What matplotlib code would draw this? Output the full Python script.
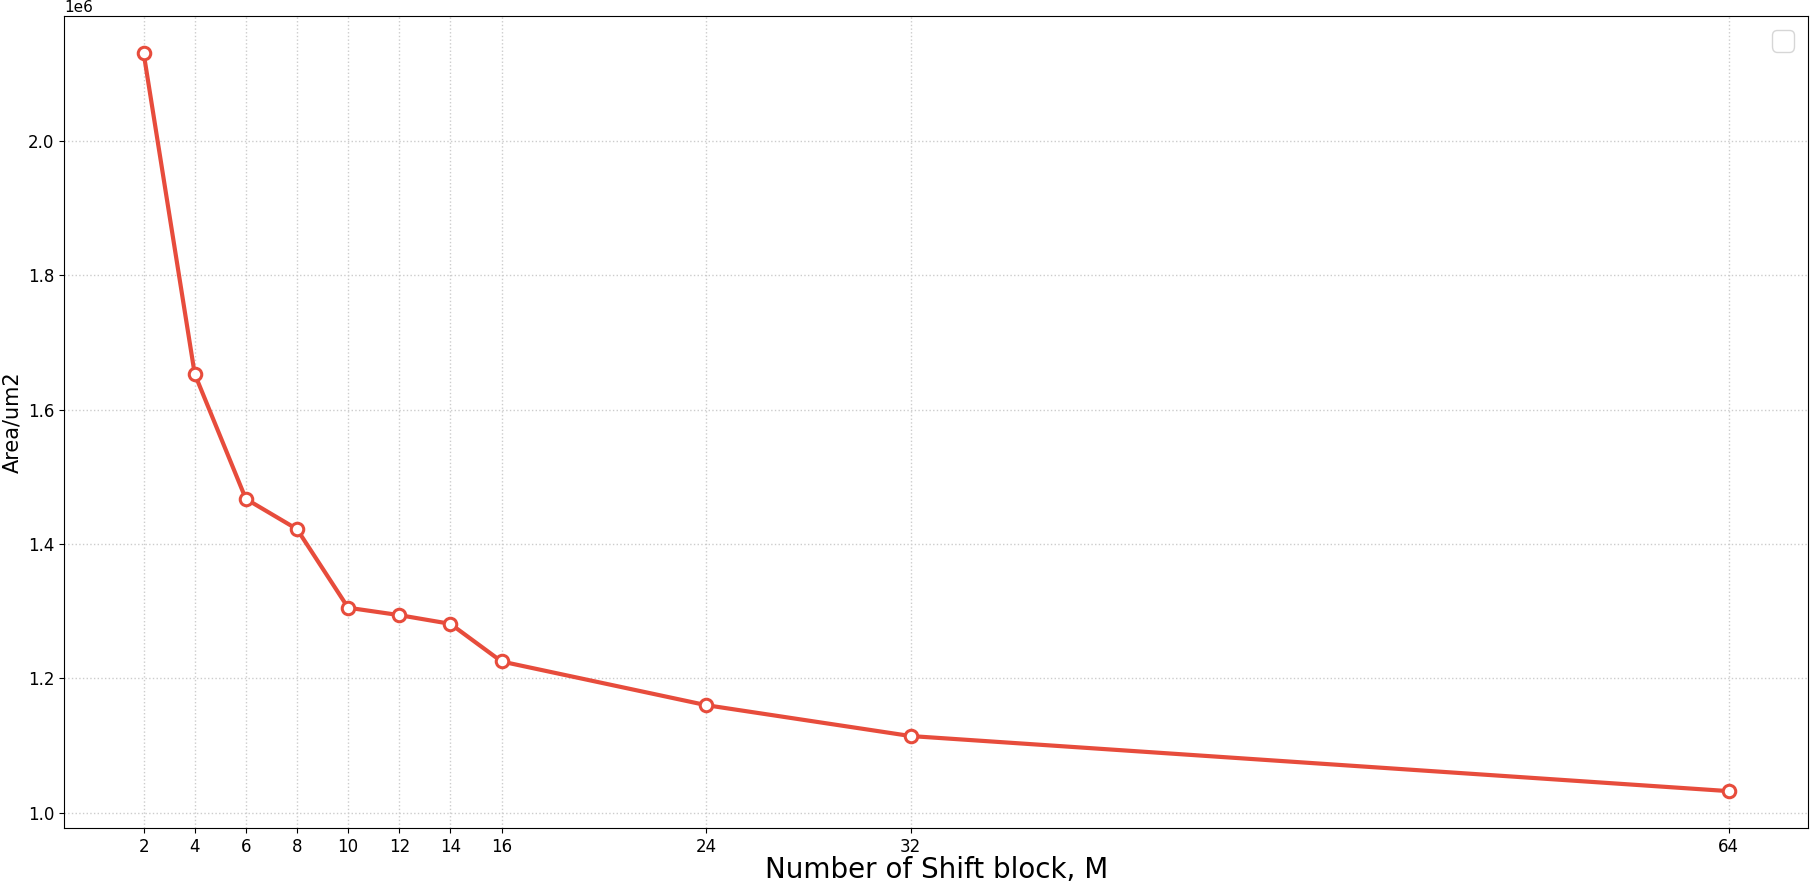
import matplotlib
matplotlib.use("Agg")
import matplotlib.pyplot as plt

M = [2, 4, 6, 8, 10, 12, 14, 16, 24, 32, 64]
area = [2.131e6, 1.653e6, 1.467e6, 1.422e6, 1.305e6, 1.294e6, 1.281e6, 1.225e6, 1.160e6, 1.114e6, 1.032e6]

fig, ax = plt.subplots(figsize=(18.12, 8.84), dpi=100)
ax.plot(M, area, '-o', color='#e74c3c', lw=3, ms=9, mfc='white', mec='#e74c3c', mew=2.2)
ax.set_xticks(M)
ax.tick_params(labelsize=12)
ax.yaxis.get_offset_text().set_fontsize(11)
ax.grid(True, linestyle=':', color='#cccccc', lw=1)
ax.set_xlabel('Number of Shift block, M', fontsize=20, labelpad=0)
ax.set_ylabel('Area/um2', fontsize=15)
ax.legend(fontsize=20)

fig.subplots_adjust(left=0.0355, right=0.9978, top=0.982, bottom=0.0633)
fig.savefig('out.png', dpi=100)
